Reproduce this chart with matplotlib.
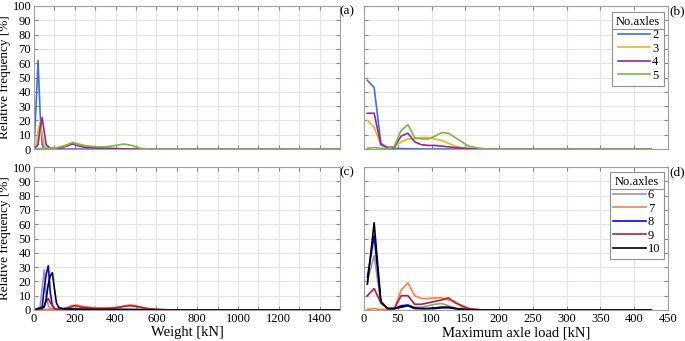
import numpy as np
import matplotlib
matplotlib.use('Agg')
import matplotlib.pyplot as plt
from matplotlib.lines import Line2D

plt.rcParams['font.family'] = ['Liberation Serif', 'DejaVu Serif']
plt.rcParams['font.size'] = 8

# ---- (a) gross weight, 2-5 axles ----
w2_x = [0, 10, 20, 30, 40, 50, 1500]
w2_y = [0, 30, 62, 25, 3, 0, 0]
w3_x = [0, 10, 20, 30, 40, 50, 60, 80, 120, 160, 190, 220, 260, 300, 350, 400, 450, 1500]
w3_y = [0, 2, 12, 19, 10, 3, 1, 0.3, 1, 3, 4.5, 3.5, 2, 1.5, 0.8, 0.3, 0, 0]
w4_x = [0, 20, 30, 40, 50, 60, 80, 120, 160, 190, 220, 260, 300, 350, 400, 450, 500, 1500]
w4_y = [0, 3, 15, 22, 12, 3, 0.5, 0.3, 2, 3.5, 2, 1, 0.8, 0.5, 0.3, 0.1, 0, 0]
w5_x = [0, 50, 100, 150, 190, 220, 260, 300, 350, 400, 440, 480, 520, 560, 600, 1500]
w5_y = [0, 0.5, 0.5, 2, 4.5, 3, 2, 1.5, 1.5, 2.5, 3.5, 2.5, 0.5, 0.1, 0, 0]

# ---- (c) gross weight, 6-10 axles ----
w6_x = [0, 30, 40, 50, 60, 70, 80, 100, 150, 200, 250, 300, 400, 500, 600, 1500]
w6_y = [0, 2, 15, 28, 10, 3, 1, 0.5, 0.5, 0.8, 0.5, 0.3, 0.5, 0.5, 0, 0]
w7_x = [0, 100, 150, 180, 210, 240, 270, 300, 340, 380, 420, 450, 470, 500, 530, 560, 600, 650, 700, 1500]
w7_y = [0, 0.5, 1, 3, 3.5, 2.5, 2, 1.5, 1.5, 1.5, 2, 3, 3.5, 3, 2, 1, 0.5, 0.2, 0, 0]
w8_x = [0, 40, 50, 60, 70, 80, 90, 100, 120, 200, 300, 400, 500, 600, 1500]
w8_y = [0, 2, 15, 25, 31, 12, 3, 1, 0.5, 0.5, 0.3, 0.3, 0.2, 0, 0]
w9_x = [0, 40, 50, 60, 70, 80, 90, 100, 130, 170, 200, 230, 260, 300, 350, 400, 440, 470, 500, 530, 570, 620, 680, 1500]
w9_y = [0, 0.5, 3, 6, 8, 5, 3, 1, 0.5, 1.5, 3, 2, 1.5, 1, 1, 1.5, 2.5, 3, 2.5, 1.5, 0.8, 0.3, 0, 0]
w10_x = [0, 50, 60, 70, 80, 90, 100, 110, 120, 140, 200, 300, 400, 500, 600, 1500]
w10_y = [0, 2, 8, 18, 24, 26, 15, 5, 2, 1, 0.5, 0.3, 0.3, 0.2, 0, 0]

# ---- (b),(d) maximum axle load, bins centred every 10 kN ----
load_x = [5, 15, 25, 35, 45, 55, 65, 75, 85, 95, 105, 115, 125, 135, 145, 155, 165, 175, 185, 425]
a2_y = [48, 43, 4, 1, 0.5, 0.3, 0.2, 0.1, 0, 0, 0, 0, 0, 0, 0, 0, 0, 0, 0, 0]
a3_y = [20, 15, 3, 1, 1.5, 5, 7, 7, 8, 8, 7, 6, 4, 2, 1, 0.5, 0, 0, 0, 0]
a4_y = [25, 25, 3, 1, 1.5, 9, 11, 5, 3, 2.5, 2.5, 2, 1.5, 1, 0.5, 0.3, 0, 0, 0, 0]
a5_y = [0.5, 1, 0.5, 0.3, 2, 13, 17, 8, 7, 7, 9, 11.5, 11, 8, 5, 2, 1, 0.3, 0, 0]
a6_y = [20, 38, 5, 1, 1, 2, 3, 2, 2, 3, 4, 4.5, 3, 1.5, 0.5, 0.2, 0, 0, 0, 0]
a7_y = [0.5, 1, 0.3, 0.5, 1, 14, 19, 10, 8, 8, 8.5, 8.5, 7, 6, 2, 1, 0.5, 0, 0, 0]
a8_y = [23, 52, 5, 1, 1, 3, 3.5, 1.5, 1, 1, 1, 1.5, 1.5, 1, 0.5, 0.2, 0, 0, 0, 0]
a9_y = [10, 15, 5, 1, 1, 10, 10, 4, 4, 5, 6, 7, 8.5, 5, 3, 1, 0.5, 0, 0, 0]
a10_y = [18, 61, 6, 1, 1, 2, 3, 1, 1, 1, 1.5, 2, 2, 1, 0.5, 0.2, 0, 0, 0, 0]

axles_top = ['2', '3', '4', '5']
axles_bot = ['6', '7', '8', '9', '10']
col_top = ['#3F6FD8', '#F5B21C', '#8B2A9B', '#7AB648']
col_bot = ['#9A9A9A', '#FF7F40', '#0000FF', '#B0203A', '#000000']

fig = plt.figure(figsize=(6.85, 3.41), dpi=100)
W, H = 685, 341
def add(x0, y0, x1, y1):
    return fig.add_axes([x0 / W, 1 - y1 / H, (x1 - x0) / W, (y1 - y0) / H])

ax_a = add(34, 6, 340, 149)
ax_b = add(364, 6, 668, 149)
ax_c = add(34, 167, 340, 310)
ax_d = add(364, 167, 668, 310)

def style(ax, xmax, xstep, lstep, show_xlab, show_ylab):
    ax.set_xlim(0, xmax)
    ax.set_ylim(0, 100)
    ax.set_xticks(np.arange(0, xmax + 1, xstep))
    ax.set_yticks(np.arange(0, 101, 10))
    ax.grid(True, color='#E4E4E4', linewidth=0.8)
    ax.set_axisbelow(True)
    ax.tick_params(direction='in', length=3, color='#888888', top=True, right=True,
                   labelsize=9, pad=2)
    for s in ax.spines.values():
        s.set_color('#A0A0A0')
        s.set_linewidth(0.8)
    if show_xlab:
        ax.set_xticklabels([str(int(v)) if int(v) % lstep == 0 else '' for v in ax.get_xticks()])
    else:
        ax.set_xticklabels([])
    if show_ylab:
        ax.set_ylabel('Relative frequency [%]', fontsize=9.5, labelpad=1)
    else:
        ax.set_yticklabels([])

top_w = [(w2_x, w2_y), (w3_x, w3_y), (w4_x, w4_y), (w5_x, w5_y)]
bot_w = [(w6_x, w6_y), (w7_x, w7_y), (w8_x, w8_y), (w9_x, w9_y), (w10_x, w10_y)]
top_l = [a2_y, a3_y, a4_y, a5_y]
bot_l = [a6_y, a7_y, a8_y, a9_y, a10_y]

for (x, y), c, n in zip(top_w, col_top, axles_top):
    ax_a.plot(x, y, color=c, lw=1.2, label=n)
for (x, y), c, n in zip(bot_w, col_bot, axles_bot):
    ax_c.plot(x, y, color=c, lw=1.2, label=n)
for y, c, n in zip(top_l, col_top, axles_top):
    ax_b.plot(load_x, y, color=c, lw=1.2, label=n)
for y, c, n in zip(bot_l, col_bot, axles_bot):
    ax_d.plot(load_x, y, color=c, lw=1.2, label=n)

style(ax_a, 1500, 100, 200, False, True)
style(ax_c, 1500, 100, 200, True, True)
style(ax_b, 450, 50, 50, False, False)
style(ax_d, 450, 50, 50, True, False)
ax_c.set_xlabel('Weight [kN]', fontsize=10.5, labelpad=1)
ax_d.set_xlabel('Maximum axle load [kN]', fontsize=10.5, labelpad=1)

legs = []
for ax, top in ((ax_b, 0.958), (ax_d, 0.965)):
    leg = ax.legend(title='No.axles', loc='upper right', bbox_to_anchor=(0.987, top),
                    borderaxespad=0, fontsize=9, title_fontsize=9, markerfirst=True,
                    handlelength=2.6, handletextpad=0.15, labelspacing=0.12, borderpad=0.3,
                    fancybox=False, framealpha=1, edgecolor='#909090', alignment='center')
    leg.get_frame().set_linewidth(0.8)
    legs.append(leg)

for lab, x, y in [('(a)', 347, 11), ('(b)', 677, 11), ('(c)', 347, 172), ('(d)', 677, 172)]:
    fig.text(x / W, 1 - y / H, lab, ha='center', va='center', fontsize=9.5)

# separator under legend title
fig.canvas.draw()
r = fig.canvas.get_renderer()
for leg in legs:
    fb = leg.get_frame().get_window_extent(r)
    tb = leg.get_title().get_window_extent(r)
    yline = tb.y0 - 1
    fig.add_artist(Line2D([fb.x0 / W, fb.x1 / W], [yline / H, yline / H],
                          color='#909090', lw=0.8, transform=fig.transFigure))

fig.savefig('out.png', dpi=100)
